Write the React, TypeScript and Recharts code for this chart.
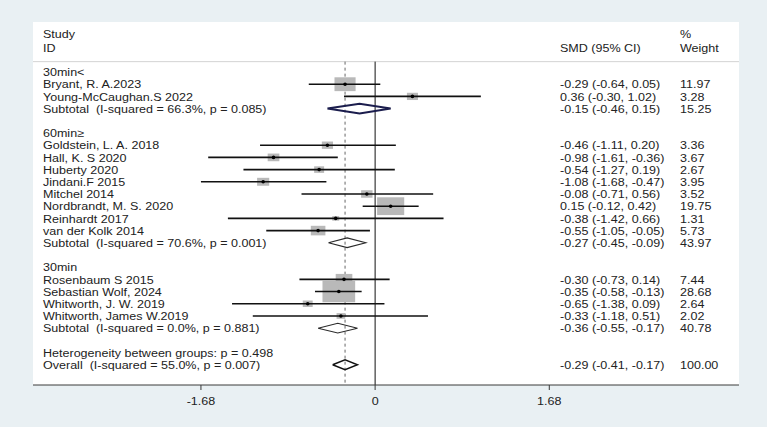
import React from "react";
import { ComposedChart, Scatter, XAxis, YAxis, ReferenceLine, CartesianGrid } from "recharts";

// Study-level results, listed in plot order
const studyNames = [
  "Bryant, R. A.2023",
  "Young-McCaughan.S 2022",
  "Goldstein, L. A. 2018",
  "Hall, K. S 2020",
  "Huberty 2020",
  "Jindani.F 2015",
  "Mitchel 2014",
  "Nordbrandt, M. S. 2020",
  "Reinhardt 2017",
  "van der Kolk 2014",
  "Rosenbaum S 2015",
  "Sebastian Wolf, 2024",
  "Whitworth, J. W. 2019",
  "Whitworth, James W.2019",
];
const studyGroup = [0, 0, 1, 1, 1, 1, 1, 1, 1, 1, 2, 2, 2, 2];
const smd = [-0.29, 0.36, -0.46, -0.98, -0.54, -1.08, -0.08, 0.15, -0.38, -0.55, -0.3, -0.35, -0.65, -0.33];
const ciLow = [-0.64, -0.3, -1.11, -1.61, -1.27, -1.68, -0.71, -0.12, -1.42, -1.05, -0.73, -0.58, -1.38, -1.18];
const ciHigh = [0.05, 1.02, 0.2, -0.36, 0.19, -0.47, 0.56, 0.42, 0.66, -0.05, 0.14, -0.13, 0.09, 0.51];
const weights = [11.97, 3.28, 3.36, 3.67, 2.67, 3.95, 3.52, 19.75, 1.31, 5.73, 7.44, 28.68, 2.64, 2.02];

// Subgroup pooled estimates
const groupNames = ["30min<", "60min≥", "30min"];
const subSmd = [-0.15, -0.27, -0.36];
const subLow = [-0.46, -0.45, -0.55];
const subHigh = [0.15, -0.09, -0.17];
const subWeight = [15.25, 43.97, 40.78];
const subI2 = [66.3, 70.6, 0.0];
const subP = ["0.085", "0.001", "0.881"];

// Overall pooled estimate
const overallSmd = -0.29;
const overallLow = -0.41;
const overallHigh = -0.17;
const overallWeight = 100;
const overallI2 = 55.0;
const overallP = "0.007";
const betweenP = "0.498";

const xTicks = [-1.68, 0, 1.68];

const FONT = "'Liberation Sans', Arial, sans-serif";
const TEXT = "#222";
const STRETCH = 1.14; // glyphs are drawn a little wide
const NAME_X = 43;
const CI_X = 560;
const WEIGHT_X = 680;
const ROW_TOP = -4.1;
const ROW_BOTTOM = 25.66;
const HEADER_LINE = -0.85;
const DIAMOND_HALF = 0.4;
const diamondStroke = ["#1b1d4d", "#2a2a2a", "#2a2a2a", "#111"];
const diamondWidth = [2, 1.1, 1.1, 1.4];

type Row = { pos: number; label: string; ci?: string; weight?: string };
type Pt = { x: number; y: number; w?: number };

const f2 = (v: number) => v.toFixed(2);
const ciText = (e: number, lo: number, hi: number) => `${f2(e)} (${f2(lo)}, ${f2(hi)})`;

const rows: Row[] = [
  { pos: -3.1, label: "Study", weight: "%" },
  { pos: -2.0, label: "ID", ci: "SMD (95% CI)", weight: "Weight" },
];
const boxes: Pt[] = [];
const ciLines: Pt[][] = [];
const diamonds: Pt[][] = [];

const diamond = (e: number, lo: number, hi: number, y: number): Pt[] => [
  { x: lo, y },
  { x: e, y: y - DIAMOND_HALF },
  { x: hi, y },
  { x: e, y: y + DIAMOND_HALF },
  { x: lo, y },
];

let r = 0;
groupNames.forEach((g, gi) => {
  rows.push({ pos: r++, label: g });
  studyNames.forEach((name, i) => {
    if (studyGroup[i] !== gi) return;
    rows.push({ pos: r, label: name, ci: ciText(smd[i], ciLow[i], ciHigh[i]), weight: f2(weights[i]) });
    boxes.push({ x: smd[i], y: r, w: weights[i] });
    ciLines.push([{ x: ciLow[i], y: r }, { x: ciHigh[i], y: r }]);
    r++;
  });
  rows.push({
    pos: r,
    label: `Subtotal  (I-squared = ${subI2[gi].toFixed(1)}%, p = ${subP[gi]})`,
    ci: ciText(subSmd[gi], subLow[gi], subHigh[gi]),
    weight: f2(subWeight[gi]),
  });
  diamonds.push(diamond(subSmd[gi], subLow[gi], subHigh[gi], r));
  r += 2;
});
rows.push({ pos: r++, label: `Heterogeneity between groups: p = ${betweenP}` });
rows.push({
  pos: r,
  label: `Overall  (I-squared = ${overallI2.toFixed(1)}%, p = ${overallP})`,
  ci: ciText(overallSmd, overallLow, overallHigh),
  weight: f2(overallWeight),
});
diamonds.push(diamond(overallSmd, overallLow, overallHigh, r));

// text rows are anchored on the zero line; only their y position comes from the scale
const textRows = rows.map((row) => ({ ...row, x: 0, y: row.pos }));

const WideText = ({ x, y, children, anchor = "start" }: any) => (
  <text
    transform={`translate(${x},${y}) scale(${STRETCH},1)`}
    fontSize={11}
    fontFamily={FONT}
    fill={TEXT}
    dominantBaseline="central"
    textAnchor={anchor}
    style={{ whiteSpace: "pre" }}
  >
    {children}
  </text>
);

const RowText = (props: any) => {
  const { cy, payload } = props;
  return (
    <g>
      <WideText x={NAME_X} y={cy}>
        {payload.label}
      </WideText>
      {payload.ci && (
        <WideText x={CI_X} y={cy}>
          {payload.ci}
        </WideText>
      )}
      {payload.weight && (
        <WideText x={WEIGHT_X} y={cy}>
          {payload.weight}
        </WideText>
      )}
    </g>
  );
};

const AxisTick = (props: any) => (
  <WideText x={props.x} y={props.y + 9} anchor="middle">
    {props.payload.value === 0 ? "0" : props.payload.value.toFixed(2)}
  </WideText>
);

// weight box: area grows with study weight
const WeightBox = (props: any) => {
  const { cx, cy, payload } = props;
  const s = Math.sqrt(payload.w);
  const w = 6.1 * s;
  const h = 4.0 * s;
  return <rect x={cx - w / 2} y={cy - h / 2} width={w} height={h} fill="#b9b9b9" />;
};

const PointDot = (props: any) => <circle cx={props.cx} cy={props.cy} r={1.8} fill="#000" />;
const NoShape = () => <g />;

export default function App() {
  return (
    <div style={{ position: "absolute", left: 0, top: 0, width: 767, height: 427, background: "#e9f0f3" }}>
      <ComposedChart width={767} height={427} margin={{ top: 22, right: 28, bottom: 0, left: 33 }}>
        <CartesianGrid horizontal={false} vertical={false} fill="#ffffff" stroke="none" />
        <XAxis
          type="number"
          dataKey="x"
          domain={[-3.3, 3.51]}
          allowDataOverflow
          ticks={xTicks}
          interval={0}
          height={42}
          tickSize={5}
          axisLine={{ stroke: "#3a3a3a" }}
          tickLine={{ stroke: "#3a3a3a" }}
          tick={<AxisTick />}
        />
        <YAxis type="number" dataKey="y" domain={[ROW_TOP, ROW_BOTTOM]} allowDataOverflow reversed hide />
        <ReferenceLine y={HEADER_LINE} stroke="#d3d3d3" strokeWidth={1} />
        <ReferenceLine
          segment={[
            { x: 0, y: HEADER_LINE },
            { x: 0, y: ROW_BOTTOM },
          ]}
          stroke="#111"
          strokeWidth={1}
        />
        <ReferenceLine
          segment={[
            { x: overallSmd, y: HEADER_LINE },
            { x: overallSmd, y: ROW_BOTTOM },
          ]}
          stroke="#666"
          strokeWidth={1}
          strokeDasharray="3 3"
        />
        <Scatter data={textRows} shape={<RowText />} isAnimationActive={false} />
        <Scatter data={boxes} shape={<WeightBox />} isAnimationActive={false} />
        {ciLines.map((seg, i) => (
          <Scatter
            key={`ci-${i}`}
            data={seg}
            line={{ stroke: "#111", strokeWidth: 1.6 }}
            shape={<NoShape />}
            isAnimationActive={false}
          />
        ))}
        {diamonds.map((pts, i) => (
          <Scatter
            key={`dm-${i}`}
            data={pts}
            line={{ stroke: diamondStroke[i], strokeWidth: diamondWidth[i] }}
            shape={<NoShape />}
            isAnimationActive={false}
          />
        ))}
        <Scatter data={boxes} shape={<PointDot />} isAnimationActive={false} />
      </ComposedChart>
    </div>
  );
}
